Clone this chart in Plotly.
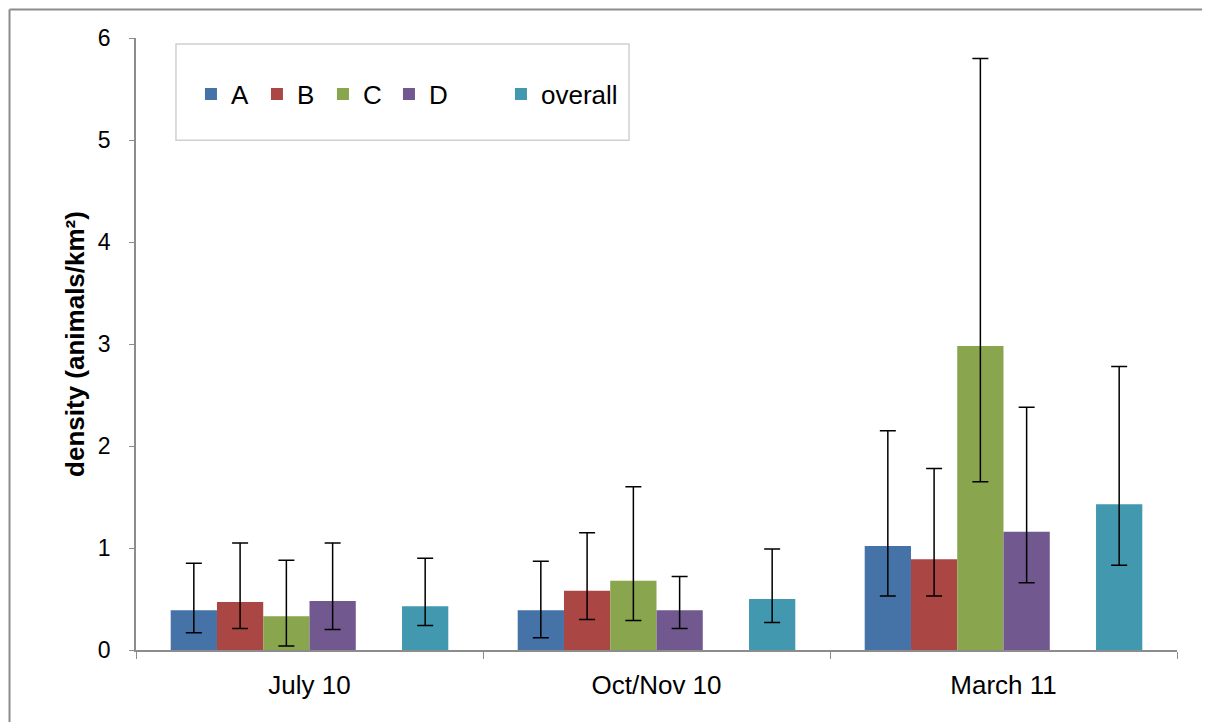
import plotly.graph_objects as go

groups = ["July 10", "Oct/Nov 10", "March 11"]

series_names = ["A", "B", "C", "D", " ", "overall"]
colors = ["#4572A7", "#AA4643", "#89A54E", "#71588F", "rgba(0,0,0,0)", "#4198AF"]
legend_ids = ["legend", "legend", "legend", "legend", None, "legend2"]

A = [0.39, 0.39, 1.02]
A_hi = [0.85, 0.87, 2.15]
A_lo = [0.17, 0.12, 0.53]

B = [0.47, 0.58, 0.89]
B_hi = [1.05, 1.15, 1.78]
B_lo = [0.21, 0.30, 0.53]

C = [0.33, 0.68, 2.98]
C_hi = [0.88, 1.60, 5.80]
C_lo = [0.04, 0.29, 1.65]

D = [0.48, 0.39, 1.16]
D_hi = [1.05, 0.72, 2.38]
D_lo = [0.20, 0.21, 0.66]

blank = [0, 0, 0]

overall = [0.43, 0.50, 1.43]
overall_hi = [0.90, 0.99, 2.78]
overall_lo = [0.24, 0.27, 0.83]

values = [A, B, C, D, blank, overall]
highs = [A_hi, B_hi, C_hi, D_hi, None, overall_hi]
lows = [A_lo, B_lo, C_lo, D_lo, None, overall_lo]

FONT = "Liberation Sans, Arial, sans-serif"

fig = go.Figure()
for name, col, v, hi, lo, lg in zip(series_names, colors, values, highs, lows, legend_ids):
    kw = {}
    if hi is not None:
        kw["error_y"] = dict(
            type="data", symmetric=False,
            array=[h - x for h, x in zip(hi, v)],
            arrayminus=[x - l for x, l in zip(v, lo)],
            color="black", thickness=1.5, width=8,
        )
    if lg is not None:
        kw["legend"] = lg
    fig.add_trace(go.Bar(
        x=groups, y=v, name=name,
        marker=dict(color=col, line=dict(width=0)),
        showlegend=lg is not None,
        hoverinfo="skip" if hi is None else None,
        **kw,
    ))

fig.update_layout(
    width=1202, height=714,
    margin=dict(l=128, r=33, t=30, b=72),
    paper_bgcolor="white", plot_bgcolor="white",
    barmode="group", bargap=0.2, bargroupgap=0,
    font=dict(family=FONT, color="black"),
    legend=dict(
        orientation="h", x=0.0528, y=0.9085, xanchor="left", yanchor="middle",
        font=dict(size=26, family=FONT), entrywidth=21, entrywidthmode="pixels",
        bgcolor="rgba(0,0,0,0)", borderwidth=0, traceorder="normal",
    ),
    legend2=dict(
        orientation="h", x=0.3506, y=0.9085, xanchor="left", yanchor="middle",
        font=dict(size=26, family=FONT),
        bgcolor="rgba(0,0,0,0)", borderwidth=0,
    ),
    showlegend=True,
)
fig.update_xaxes(
    type="category", showline=True, linecolor="#8c8c8c", linewidth=1.5,
    ticks="outside", tickson="boundaries", ticklen=7, tickcolor="#8c8c8c",
    tickfont=dict(size=26, family=FONT), showgrid=False, ticklabelstandoff=11,
)
fig.update_yaxes(
    range=[0, 6], dtick=1, showline=True, linecolor="#8c8c8c", linewidth=1.5,
    ticks="outside", ticklen=5, tickcolor="#8c8c8c", showgrid=False, zeroline=False,
    tickfont=dict(size=23, family=FONT), ticklabelstandoff=14,
    title=dict(text="<b>density (animals/km²)</b>", font=dict(size=26, family=FONT), standoff=6),
)

# legend frame
fig.add_shape(type="rect", xref="paper", yref="paper",
              x0=0.0384, x1=0.4736, y0=0.833, y1=0.990,
              line=dict(color="#d0d0d0", width=1.5), fillcolor="rgba(0,0,0,0)", layer="below")
# outer chart border (left and top edges)
fig.add_shape(type="line", xref="paper", yref="paper", x0=-0.1215, x1=-0.1215, y0=-0.2, y1=1.0465,
              line=dict(color="#8c8c8c", width=2))
fig.add_shape(type="line", xref="paper", yref="paper", x0=-0.1215, x1=1.1, y0=1.0465, y1=1.0465,
              line=dict(color="#8c8c8c", width=2))

fig.write_html("out.html")
